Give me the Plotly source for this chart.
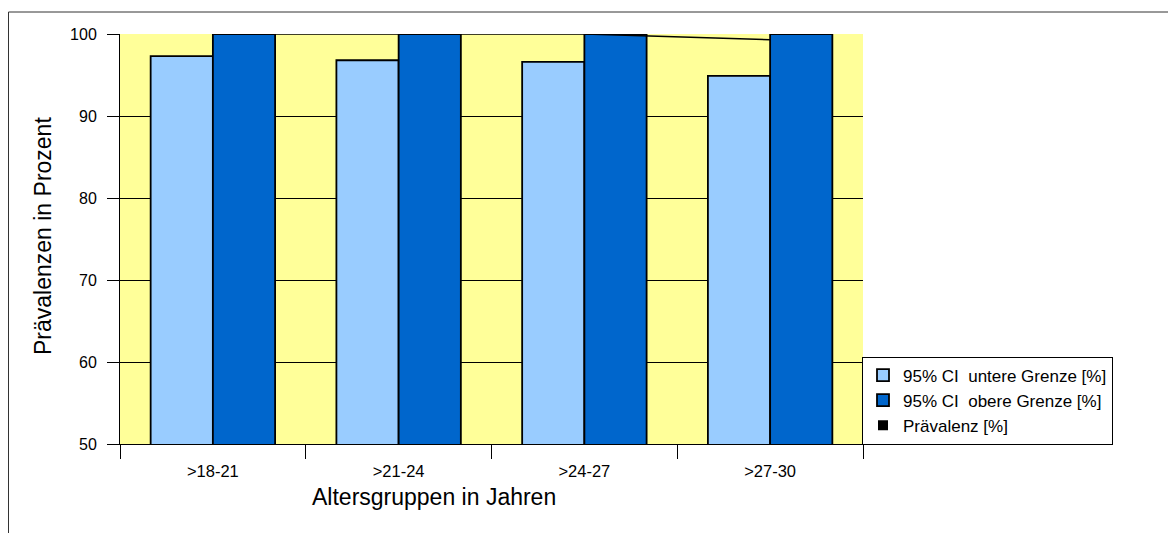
import plotly.graph_objects as go

categories = [">18-21", ">21-24", ">24-27", ">27-30"]
ci_lower = [97.3, 96.8, 96.6, 94.9]
ci_upper = [100.0, 100.0, 100.0, 100.0]
prevalence = [100.0, 100.0, 100.0, 99.3]

FONT = "Liberation Sans, Arial, sans-serif"

# page is rendered with an 8px body margin; plot area in page px: x 120..863, y 34..444
PL, PR, PT, PB = 120, 863, 34, 444


def px(xp):
    return (xp - PL) / (PR - PL)


def py(yp):
    return (PB - yp) / (PB - PT)


fig = go.Figure()
fig.add_trace(go.Bar(
    x=categories, y=ci_lower, name="95% CI  untere Grenze [%]",
    marker=dict(color="#99CCFF", line=dict(color="black", width=1.8)),
))
fig.add_trace(go.Bar(
    x=categories, y=ci_upper, name="95% CI  obere Grenze [%]",
    marker=dict(color="#0066CC", line=dict(color="black", width=1.8)),
))
fig.add_trace(go.Scatter(
    x=categories, y=prevalence, mode="lines", showlegend=False,
    line=dict(color="black", width=1.5),
))
fig.add_trace(go.Scatter(
    x=[None], y=[None], mode="markers", name="Prävalenz [%]",
    marker=dict(symbol="square", color="black", size=10),
))

fig.update_layout(
    width=1168, height=525,
    margin=dict(l=112, r=313, t=26, b=89),
    paper_bgcolor="white",
    plot_bgcolor="#FFFF99",
    barmode="group",
    bargap=0.33,
    bargroupgap=0,
    font=dict(family=FONT, size=16, color="black"),
    showlegend=True,
    legend=dict(
        x=px(862), y=py(444.5), xanchor="left", yanchor="bottom",
        bgcolor="white", bordercolor="black", borderwidth=1,
        font=dict(family=FONT, size=17, color="black"),
        itemwidth=30,
    ),
    xaxis=dict(
        type="category", tickson="boundaries", ticks="outside", ticklen=14,
        tickcolor="black", showline=True, linecolor="black", linewidth=1,
        showgrid=False, tickfont=dict(size=16.5), range=[-0.5, 3.5],
        ticklabelstandoff=12,
    ),
    yaxis=dict(
        range=[50, 100], dtick=10, ticks="outside", ticklen=12,
        tickcolor="black", showline=True, linecolor="black", linewidth=1,
        showgrid=True, gridcolor="black", gridwidth=1, zeroline=False,
        tickfont=dict(size=16), ticklabelstandoff=7,
    ),
    annotations=[
        dict(text="Altersgruppen in Jahren", xref="paper", yref="paper",
             x=px(434), y=py(497), xanchor="center", yanchor="middle",
             showarrow=False, font=dict(family=FONT, size=23, color="black")),
        dict(text="Prävalenzen in Prozent", xref="paper", yref="paper",
             x=px(43), y=py(236), xanchor="center", yanchor="middle",
             textangle=-90, showarrow=False,
             font=dict(family=FONT, size=23, color="black")),
    ],
    shapes=[
        dict(type="line", xref="paper", yref="paper",
             x0=px(8.5), y0=py(12), x1=px(1300), y1=py(12),
             line=dict(color="#333333", width=1)),
        dict(type="line", xref="paper", yref="paper",
             x0=px(8.5), y0=py(12), x1=px(8.5), y1=py(600),
             line=dict(color="#333333", width=1)),
    ],
)

fig.write_html("out.html")
